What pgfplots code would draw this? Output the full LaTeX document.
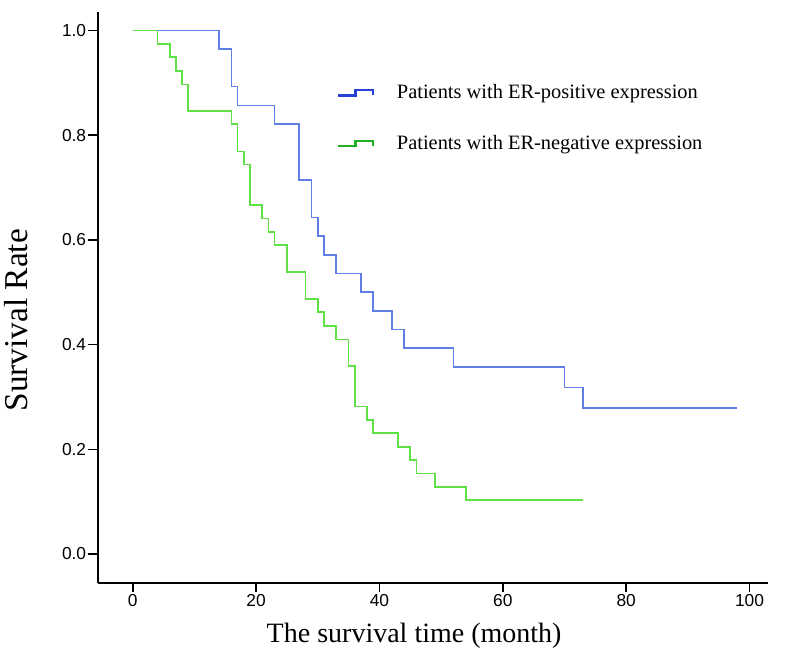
\documentclass[border=0pt]{standalone}
\usepackage{pgfplots}
\pgfplotsset{compat=1.18}
\usepackage{fontspec}
\setmainfont{Liberation Serif}
\newfontfamily\ticksans{Liberation Sans}

\definecolor{posline}{RGB}{95,125,230}
\definecolor{negline}{RGB}{95,225,70}
\definecolor{posicon}{RGB}{40,65,215}
\definecolor{negicon}{RGB}{35,175,35}

\begin{document}
\begin{tikzpicture}
\useasboundingbox (0,0) rectangle (600pt,492.75pt);
\begin{axis}[
    at={(73.3pt,55.5pt)}, anchor=south west,
    scale only axis,
    width=502.7pt, height=428.5pt,
    xmin=-5.68, xmax=103.0,
    ymin=-0.0554, ymax=1.036,
    axis x line=bottom, axis y line=left,
    axis line style={-, line width=1.2pt},
    tick align=outside,
    major tick length=7pt,
    tick style={line width=1.2pt, black},
    xtick={0,20,...,100},
    ytick={0,0.2,...,1.0},
    yticklabel style={/pgf/number format/.cd, fixed, fixed zerofill, precision=1},
    /pgf/number format/assume math mode=true,
    ticklabel style={font=\ticksans\fontsize{13}{15}\selectfont, inner sep=1.5pt},
    xlabel={The survival time (month)},
    ylabel={Survival Rate},
    xlabel style={font=\fontsize{21}{24}\selectfont, at={(axis description cs:0.472,-0.093)}, anchor=center},
    ylabel style={font=\fontsize{25}{28}\selectfont, at={(axis description cs:-0.122,0.46)}, anchor=center},
    legend style={draw=none, fill=none, at={(rel axis cs:0.351,0.882)}, anchor=north west,
        font=\fontsize{15.3}{18}\selectfont, row sep=22pt, column sep=15pt},
    legend cell align=left,
]
\addplot[const plot, posline, line width=1.3pt,
    legend image code/.code={\draw[posicon, line width=1.8pt] (0pt,-2pt) -- (12.75pt,-2pt) -- (12.75pt,2pt) -- (26pt,2pt) -- (26pt,-1.5pt);}]
coordinates {
(0,1) (14,0.964) (16,0.893) (17,0.857) (23,0.821) (27,0.714) (29,0.643)
(30,0.607) (31,0.571) (33,0.536) (37,0.5) (39,0.464) (42,0.429)
(44,0.393) (52,0.357) (70,0.318) (73,0.279) (98,0.279)
};
\addlegendentry{Patients with ER-positive expression}
\addplot[const plot, negline, line width=1.3pt,
    legend image code/.code={\draw[negicon, line width=1.8pt] (0pt,-2pt) -- (12.75pt,-2pt) -- (12.75pt,2pt) -- (26pt,2pt) -- (26pt,-1.5pt);}]
coordinates {
(0,1) (4,0.974) (6,0.949) (7,0.923) (8,0.897) (9,0.846) (16,0.821)
(17,0.769) (18,0.744) (19,0.667) (21,0.641) (22,0.615) (23,0.590)
(25,0.538) (28,0.487) (30,0.462) (31,0.436) (33,0.410) (35,0.359)
(36,0.282) (38,0.256) (39,0.231) (43,0.205) (45,0.179) (46,0.154)
(49,0.128) (54,0.103) (73,0.103)
};
\addlegendentry{Patients with ER-negative expression}
\end{axis}
\end{tikzpicture}
\end{document}
